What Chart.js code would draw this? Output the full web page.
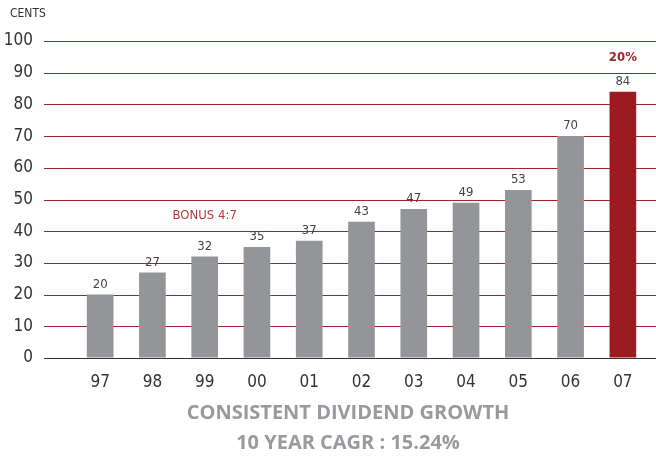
<!DOCTYPE html>
<html>
<head>
<meta charset="utf-8">
<script src="https://cdn.jsdelivr.net/npm/chart.js@4"></script>
<style>
  html, body { margin: 0; padding: 0; background: #fff; }
  #wrap { width: 656px; height: 456px; position: relative; }
</style>
</head>
<body>
<div id="wrap"><canvas id="mycanvas" width="656" height="456"></canvas></div>
<script>
// dividend per share, cents
var years = ['97', '98', '99', '00', '01', '02', '03', '04', '05', '06', '07'];
var cents = [20, 27, 32, 35, 37, 43, 47, 49, 53, 70, 84];
var yTicks = [0, 10, 20, 30, 40, 50, 60, 70, 80, 90, 100];

var barColors = cents.map(function (v, i) { return i == cents.length - 1 ? '#9b1b20' : '#949599'; });

var narrow = '"DejaVu Sans Condensed", "Liberation Sans", sans-serif';
var red = '#a3232a';

// grid lines run wider than the plot, so draw them by hand
var gridLines = {
  id: 'gridLines',
  beforeDatasetsDraw: function (chart) {
    var ctx = chart.ctx, y = chart.scales.y;
    ctx.save();
    ctx.lineWidth = 1;
    yTicks.forEach(function (t) {
      var py = Math.round(y.getPixelForValue(t)) + 0.5;
      ctx.strokeStyle = t == 0 ? '#333333' : red;
      ctx.beginPath();
      ctx.moveTo(44, py);
      ctx.lineTo(chart.width, py);
      ctx.stroke();
    });
    ctx.restore();
  }
};

var labels = {
  id: 'labels',
  afterDatasetsDraw: function (chart) {
    var ctx = chart.ctx;
    var meta = chart.getDatasetMeta(0);
    ctx.save();
    ctx.textAlign = 'center';
    ctx.textBaseline = 'middle';
    ctx.fillStyle = '#444';
    ctx.font = '13px ' + narrow;
    meta.data.forEach(function (bar, i) {
      ctx.fillText(cents[i], bar.x, bar.y - 10);
    });
    var last = meta.data[meta.data.length - 1];
    ctx.fillStyle = '#a3232a';
    ctx.font = 'bold 13px ' + narrow;
    ctx.fillText('20%', last.x, last.y - 34);

    // bonus issue note over 99
    ctx.font = '13px ' + narrow;
    ctx.fillStyle = '#b5373d';
    ctx.fillText('BONUS 4:7', chart.scales.x.getPixelForValue(2), chart.scales.y.getPixelForValue(45));

    ctx.fillStyle = '#333';
    ctx.textAlign = 'left';
    ctx.font = '12px ' + narrow;
    ctx.fillText('CENTS', 10, 14);

    ctx.textAlign = 'center';
    ctx.fillStyle = '#999a9d';
    ctx.font = 'bold 20px "Open Sans", sans-serif';
    ctx.fillText('CONSISTENT DIVIDEND GROWTH', 348, 413);
    ctx.fillText('10 YEAR CAGR : 15.24%', 348, 443);
    ctx.restore();
  }
};

var ctx = document.getElementById('mycanvas');
var barGraph = new Chart(ctx, {
  type: 'bar',
  data: {
    labels: years,
    datasets: [{
      data: cents,
      backgroundColor: barColors,
      categoryPercentage: 1,
      barPercentage: 0.51
    }]
  },
  options: {
    responsive: false,
    animation: false,
    layout: { padding: { top: 41, right: 7, left: 0, bottom: 0 } },
    plugins: { legend: { display: false }, tooltip: { enabled: false } },
    scales: {
      x: {
        grid: { display: false },
        border: { display: false },
        ticks: { color: '#333', padding: 6, font: { family: narrow, size: 17 } },
        afterFit: function (s) { s.height = 98; }
      },
      y: {
        min: 0,
        max: 100,
        afterBuildTicks: function (s) { s.ticks = yTicks.map(function (v) { return { value: v }; }); },
        // invisible tick marks only push the labels out to the left
        grid: { display: true, drawOnChartArea: false, color: 'rgba(0,0,0,0)', tickLength: 33 },
        border: { display: false },
        ticks: { color: '#333', padding: 8, font: { family: narrow, size: 17 } },
        afterFit: function (s) { s.width = 74; }
      }
    }
  },
  plugins: [gridLines, labels]
});
</script>
</body>
</html>
